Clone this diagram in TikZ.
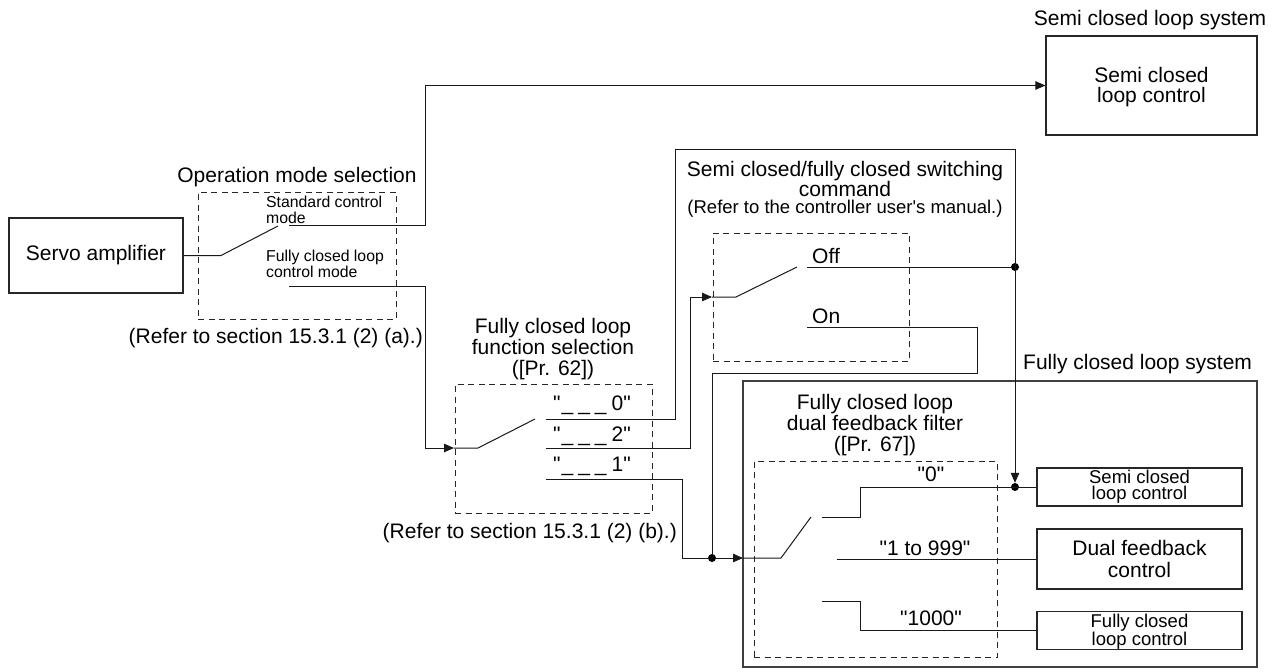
\documentclass[tikz,border=0pt]{standalone}
\usepackage{fontspec}
\setmainfont{Liberation Sans}
\usetikzlibrary{arrows.meta}
\newcommand\dq{\textquotedbl}
\newcommand\sq{\textquotesingle}
\newcommand\blank{\_\hspace{5pt}\_\hspace{5pt}\_\hspace{5pt}}
\begin{document}
\begin{tikzpicture}[x=1pt,y=-1pt,
  wire/.style={line width=1pt, draw=black!90},
  arr/.style={wire,-{Triangle[length=10pt,width=8.5pt]}},
  blk/.style={draw=black!85, line width=1.2pt, inner sep=0pt, align=center, font=\fontsize{21}{20}\selectfont},
  dbox/.style={draw=black!85, line width=1pt, dash pattern=on 6pt off 4.5pt, inner sep=0pt},
  sysbox/.style={draw=black!75, line width=1.5pt, inner sep=0pt},
  lbl/.style={inner sep=0pt, font=\fontsize{21}{21.5}\selectfont, align=center},
  slbl/.style={inner sep=0pt, font=\fontsize{15.8}{16}\selectfont, align=left},
  mlbl/.style={inner sep=0pt, font=\fontsize{18.5}{18}\selectfont, align=center},
  jdot/.style={circle, fill=black, inner sep=0pt, minimum size=8pt},
]
\useasboundingbox (0,0) rectangle (1283,672);

% ---- frames ----
\node[sysbox, minimum width=514pt, minimum height=286pt] (fcsys) at (1000,524) {};
\node[dbox, minimum width=198pt, minimum height=127pt] (opsel) at (297,255.5) {};
\node[dbox, minimum width=197pt, minimum height=129pt] (fnsel) at (553.5,448.5) {};
\node[dbox, minimum width=196pt, minimum height=128pt] (swsel) at (811,297) {};
\node[dbox, minimum width=243pt, minimum height=196pt] (filt) at (875.5,559) {};

% ---- blocks ----
\node[blk, minimum width=174pt, minimum height=75pt] (servo) at (96,255.5) {Servo amplifier};
\node[blk, minimum width=211pt, minimum height=99pt] (semi) at (1151.5,85.5) {\raisebox{0pt}[19pt][0pt]{}Semi closed\\loop control};
\node[blk, font=\fontsize{18.5}{16}\selectfont, minimum width=205pt, minimum height=38pt] (scl) at (1139.5,487) {Semi closed\\loop control};
\node[blk, font=\fontsize{21}{22}\selectfont, minimum width=205pt, minimum height=60pt] (dual) at (1139.5,559) {Dual feedback\\control};
\node[blk, font=\fontsize{18.5}{14.5}\selectfont, minimum width=205pt, minimum height=37pt] (fcl) at (1139.5,630.5) {\raisebox{0pt}[16pt][0pt]{}Fully closed\\loop control};

% ---- titles / labels ----
\node[lbl, anchor=base] (tsemisys) at (1150,25) {Semi closed loop system};
\node[lbl, anchor=base west] (tfcsys) at (1023,369) {Fully closed loop system};
\node[lbl, anchor=base] (topsel) at (297,182) {Operation mode selection};
\node[lbl, anchor=base east] (refa) at (423,343) {(Refer to section 15.3.1 (2) (a).)};
\node[lbl, anchor=base east] (refb) at (677,538) {(Refer to section 15.3.1 (2) (b).)};
\node[lbl, font=\fontsize{21}{21}\selectfont] (tfnsel) at (553,349) {Fully closed loop\\function selection\\([Pr. 62])};
\node[lbl, font=\fontsize{21}{20}\selectfont] (tswsel) at (845,178.5) {Semi closed/fully closed switching\\command};
\node[mlbl, anchor=base] (refc) at (845,213.5) {(Refer to the controller user\sq s manual.)};
\node[lbl, font=\fontsize{21}{21}\selectfont] (tfilt) at (875,425.5) {Fully closed loop\\dual feedback filter\\([Pr. 67])};

\node[slbl, anchor=west] (lstd) at (266,210) {Standard control\\mode};
\node[slbl, anchor=west] (lfcm) at (266,264) {Fully closed loop\\control mode};

\node[lbl, anchor=base west] (lf0) at (553,410) {\dq\hspace{1pt}\blank 0\dq};
\node[lbl, anchor=base west] (lf2) at (553,441) {\dq\hspace{1pt}\blank 2\dq};
\node[lbl, anchor=base west] (lf1) at (553,471) {\dq\hspace{1pt}\blank 1\dq};

\node[lbl, anchor=base west] (loff) at (812,263) {Off};
\node[lbl, anchor=base west] (lon) at (812,323) {On};

\node[lbl, anchor=base] (lz0) at (931,481) {\dq 0\dq};
\node[lbl, anchor=base] (lz1) at (925,555) {\dq 1 to 999\dq};
\node[lbl, anchor=base] (lz2) at (931,625) {\dq 1000\dq};

% ---- junction dots ----
\node[jdot] (dA) at (1015,267) {};
\node[jdot] (dB) at (1015,487) {};
\node[jdot] (dC) at (712,558) {};

% ---- wire coordinates ----
\coordinate (s1) at (221,255.5);
\coordinate (s1t) at (278,226);
\coordinate (stdA) at (289,225);
\coordinate (stdB) at (425,225);
\coordinate (fcmA) at (289,286);
\coordinate (fcmB) at (425,286);
\coordinate (fnin) at (454,448);
\coordinate (fnp) at (478,448);
\coordinate (fnt) at (535,419);
\coordinate (f0s) at (546,419);
\coordinate (f2s) at (546,448);
\coordinate (f1s) at (546,479);
\coordinate (swin) at (712,297);
\coordinate (swp) at (736,297);
\coordinate (swt) at (797,267);
\coordinate (offs) at (807,267);
\coordinate (ons) at (807,327);
\coordinate (fin) at (743,558);
\coordinate (fp) at (781,558);
\coordinate (ft) at (811,517);
\coordinate (z0s) at (822,517);
\coordinate (z1s) at (837,559);
\coordinate (z2s) at (822,601);

% ---- operation mode selection ----
\draw[wire] (servo.east) -- (s1) -- (s1t);
\draw[arr] (stdA) -- (stdB) |- (semi.west);
\draw[arr] (fcmA) -- (fcmB) |- (fnin);

% ---- function selection ----
\draw[wire] (fnin) -- (fnp) -- (fnt);
\draw[arr] (f0s) -- (675,419) -- (675,149) -- (1015,149) -- (dB.north);
\draw[arr] (f2s) -- (690,448) |- (swin);
\draw[wire] (f1s) -- (682,479) |- (dC);
\draw[arr] (dC) -- (fin);

% ---- switching command ----
\draw[wire] (swin) -- (swp) -- (swt);
\draw[wire] (offs) -- (dA);
\draw[wire] (ons) -- (977,327) -- (977,373) -- (712,373) -- (dC);

% ---- dual feedback filter ----
\draw[wire] (fin) -- (fp) -- (ft);
\draw[wire] (z0s) -- (860,517) |- (scl.west);
\draw[wire] (z1s) -- (dual.west);
\draw[wire] (z2s) -- (860,601) |- (fcl.west);
\end{tikzpicture}
\end{document}
